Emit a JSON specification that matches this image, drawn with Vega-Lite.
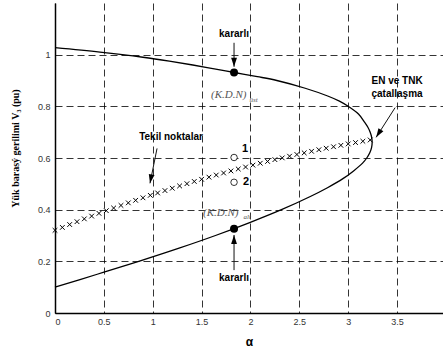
{
  "$schema": "https://vega.github.io/schema/vega-lite/v6.json",
  "width": 388,
  "height": 310,
  "autosize": {"type": "none"},
  "padding": {"left": 55, "top": 3, "right": 0, "bottom": 36},
  "background": "white",
  "config": {
    "view": {"stroke": null},
    "axis": {
      "domainColor": "black",
      "domainWidth": 1.5,
      "ticks": false,
      "labelFont": "Liberation Sans",
      "labelFontSize": 9,
      "labelColor": "#333333",
      "gridColor": "black",
      "gridDash": [7, 4],
      "gridWidth": 0.8,
      "gridOpacity": 1
    }
  },
  "datasets": {
    "curve": [
      {"i": 0, "x": 0, "y": 1.027}, {"i": 1, "x": 0.46, "y": 1.01}, {"i": 2, "x": 0.9, "y": 0.99},
      {"i": 3, "x": 1.17, "y": 0.975}, {"i": 4, "x": 1.41, "y": 0.96}, {"i": 5, "x": 1.63, "y": 0.945},
      {"i": 6, "x": 1.85, "y": 0.93}, {"i": 7, "x": 2.07, "y": 0.915}, {"i": 8, "x": 2.27, "y": 0.9},
      {"i": 9, "x": 2.56, "y": 0.87}, {"i": 10, "x": 2.79, "y": 0.84}, {"i": 11, "x": 2.91, "y": 0.82},
      {"i": 12, "x": 3.0, "y": 0.8}, {"i": 13, "x": 3.105, "y": 0.77}, {"i": 14, "x": 3.165, "y": 0.74},
      {"i": 15, "x": 3.2, "y": 0.72}, {"i": 16, "x": 3.225, "y": 0.7}, {"i": 17, "x": 3.24, "y": 0.68},
      {"i": 18, "x": 3.245, "y": 0.66}, {"i": 19, "x": 3.239, "y": 0.64}, {"i": 20, "x": 3.221, "y": 0.62},
      {"i": 21, "x": 3.19, "y": 0.6}, {"i": 22, "x": 3.147, "y": 0.58}, {"i": 23, "x": 3.055, "y": 0.55},
      {"i": 24, "x": 2.946, "y": 0.52}, {"i": 25, "x": 2.788, "y": 0.485}, {"i": 26, "x": 2.607, "y": 0.45},
      {"i": 27, "x": 2.317, "y": 0.4}, {"i": 28, "x": 1.992, "y": 0.35}, {"i": 29, "x": 1.642, "y": 0.3},
      {"i": 30, "x": 1.262, "y": 0.25}, {"i": 31, "x": 0.857, "y": 0.2}, {"i": 32, "x": 0.432, "y": 0.15},
      {"i": 33, "x": 0, "y": 0.1}
    ],
    "crosses": [
      {"x": 0, "y": 0.32}, {"x": 0.075, "y": 0.3313}, {"x": 0.15, "y": 0.3425}, {"x": 0.225, "y": 0.3535},
      {"x": 0.3, "y": 0.3644}, {"x": 0.375, "y": 0.3751}, {"x": 0.45, "y": 0.3857}, {"x": 0.525, "y": 0.3961},
      {"x": 0.6, "y": 0.4063}, {"x": 0.675, "y": 0.4164}, {"x": 0.75, "y": 0.4264}, {"x": 0.825, "y": 0.4362},
      {"x": 0.9, "y": 0.4459}, {"x": 0.975, "y": 0.4554}, {"x": 1.05, "y": 0.4647}, {"x": 1.125, "y": 0.4739},
      {"x": 1.2, "y": 0.483}, {"x": 1.275, "y": 0.4919}, {"x": 1.35, "y": 0.5006}, {"x": 1.425, "y": 0.5092},
      {"x": 1.5, "y": 0.5176}, {"x": 1.575, "y": 0.5259}, {"x": 1.65, "y": 0.534}, {"x": 1.725, "y": 0.542},
      {"x": 1.8, "y": 0.5499}, {"x": 1.875, "y": 0.5575}, {"x": 1.95, "y": 0.5651}, {"x": 2.025, "y": 0.5724},
      {"x": 2.1, "y": 0.5797}, {"x": 2.175, "y": 0.5867}, {"x": 2.25, "y": 0.5937}, {"x": 2.325, "y": 0.6004},
      {"x": 2.4, "y": 0.607}, {"x": 2.475, "y": 0.6135}, {"x": 2.55, "y": 0.6198}, {"x": 2.625, "y": 0.626},
      {"x": 2.7, "y": 0.632}, {"x": 2.775, "y": 0.6378}, {"x": 2.85, "y": 0.6435}, {"x": 2.925, "y": 0.6491},
      {"x": 3.0, "y": 0.6545}, {"x": 3.075, "y": 0.6597}, {"x": 3.15, "y": 0.6648}, {"x": 3.225, "y": 0.6698}
    ],
    "dots": [
      {"x": 1.832, "y": 0.931, "kind": "stable"},
      {"x": 1.832, "y": 0.326, "kind": "stable"},
      {"x": 1.832, "y": 0.602, "kind": "singular"},
      {"x": 1.832, "y": 0.506, "kind": "singular"}
    ],
    "arrows": [
      {"name": "top", "x": 1.832, "y": 1.046, "x2": 1.832, "y2": 0.953},
      {"name": "bottom", "x": 1.832, "y": 0.166, "x2": 1.832, "y2": 0.302},
      {"name": "tekil", "x": 1.044, "y": 0.637, "x2": 0.972, "y2": 0.502},
      {"name": "en", "x": 3.48, "y": 0.795, "x2": 3.286, "y2": 0.68}
    ],
    "boldLabels": [
      {"x": 1.832, "y": 1.08, "text": "kararlı"},
      {"x": 1.832, "y": 0.135, "text": "kararlı"},
      {"x": 1.187, "y": 0.68, "text": "Tekil noktalar"},
      {"x": 3.5, "y": 0.9, "text": "EN ve TNK"},
      {"x": 3.5, "y": 0.846, "text": "çatallaşma"}
    ],
    "numLabels": [
      {"x": 1.945, "y": 0.633, "text": "1"},
      {"x": 1.955, "y": 0.506, "text": "2"}
    ],
    "kdn": [
      {"x": 1.597, "y": 0.842, "text": "(K.D.N)"},
      {"x": 1.515, "y": 0.386, "text": "(K.D.N)"}
    ],
    "subs": [
      {"x": 1.99, "y": 0.826, "text": "üst"},
      {"x": 1.93, "y": 0.372, "text": "alt"}
    ]
  },
  "encoding": {
    "x": {
      "field": "x", "type": "quantitative",
      "scale": {"domain": [0, 3.97], "nice": false, "zero": false},
      "axis": {
        "values": [0, 0.5, 1, 1.5, 2, 2.5, 3, 3.5],
        "format": "~g",
        "labelPadding": 4,
        "title": "α",
        "titleFont": "Liberation Sans",
        "titleFontSize": 12,
        "titleFontWeight": "bold",
        "titleY": 28,
        "titleBaseline": "middle"
      }
    },
    "y": {
      "field": "y", "type": "quantitative",
      "scale": {"domain": [0, 1.2], "nice": false, "zero": false},
      "axis": {
        "values": [0, 0.2, 0.4, 0.6, 0.8, 1],
        "format": "~g",
        "labelPadding": 5,
        "title": "Yük barasý gerilimi V₃ (pu)",
        "titleFont": "Liberation Serif",
        "titleFontSize": 10,
        "titleFontWeight": "bold",
        "titleX": -40,
        "titleY": 145,
        "titleBaseline": "middle"
      }
    }
  },
  "layer": [
    {
      "data": {"values": [{"a": 1}]},
      "mark": {"type": "rule", "color": "black", "strokeWidth": 1.2},
      "encoding": {
        "x": {"datum": 0, "type": "quantitative"},
        "x2": {"datum": 3.97},
        "y": {"datum": 1.2, "type": "quantitative"}
      }
    },
    {
      "data": {"name": "curve"},
      "mark": {"type": "line", "color": "black", "strokeWidth": 1.3, "interpolate": "catmull-rom"},
      "encoding": {"order": {"field": "i", "type": "quantitative"}}
    },
    {
      "data": {"name": "crosses"},
      "mark": {"type": "point", "shape": "M-1,-1L1,1M-1,1L1,-1", "filled": false, "color": "black", "strokeWidth": 1, "size": 22, "opacity": 1}
    },
    {
      "data": {"name": "arrows"},
      "mark": {"type": "rule", "color": "#111111", "strokeWidth": 1},
      "encoding": {"x2": {"field": "x2"}, "y2": {"field": "y2"}}
    },
    {
      "data": {"name": "arrows"},
      "transform": [{"filter": "datum.name === 'top'"}],
      "mark": {"type": "point", "shape": "M0,0L0.65,2L-0.65,2Z", "filled": true, "color": "black", "size": 81, "angle": 180, "opacity": 1},
      "encoding": {"x": {"field": "x2", "type": "quantitative"}, "y": {"field": "y2", "type": "quantitative"}}
    },
    {
      "data": {"name": "arrows"},
      "transform": [{"filter": "datum.name === 'bottom'"}],
      "mark": {"type": "point", "shape": "M0,0L0.65,2L-0.65,2Z", "filled": true, "color": "black", "size": 81, "angle": 0, "opacity": 1},
      "encoding": {"x": {"field": "x2", "type": "quantitative"}, "y": {"field": "y2", "type": "quantitative"}}
    },
    {
      "data": {"name": "arrows"},
      "transform": [{"filter": "datum.name === 'tekil'"}],
      "mark": {"type": "point", "shape": "M0,0L0.65,2L-0.65,2Z", "filled": true, "color": "black", "size": 81, "angle": 191, "opacity": 1},
      "encoding": {"x": {"field": "x2", "type": "quantitative"}, "y": {"field": "y2", "type": "quantitative"}}
    },
    {
      "data": {"name": "arrows"},
      "transform": [{"filter": "datum.name === 'en'"}],
      "mark": {"type": "point", "shape": "M0,0L0.65,2L-0.65,2Z", "filled": true, "color": "black", "size": 81, "angle": 212, "opacity": 1},
      "encoding": {"x": {"field": "x2", "type": "quantitative"}, "y": {"field": "y2", "type": "quantitative"}}
    },
    {
      "data": {"name": "dots"},
      "transform": [{"filter": "datum.kind === 'stable'"}],
      "mark": {"type": "point", "shape": "circle", "filled": true, "color": "black", "size": 64, "opacity": 1}
    },
    {
      "data": {"name": "dots"},
      "transform": [{"filter": "datum.kind === 'singular'"}],
      "mark": {"type": "point", "shape": "circle", "filled": true, "fill": "white", "stroke": "black", "strokeWidth": 0.8, "size": 42, "opacity": 1}
    },
    {
      "data": {"name": "boldLabels"},
      "mark": {"type": "text", "font": "Liberation Sans", "fontSize": 10, "fontWeight": "bold", "color": "black"},
      "encoding": {"text": {"field": "text"}}
    },
    {
      "data": {"name": "numLabels"},
      "mark": {"type": "text", "font": "Liberation Sans", "fontSize": 11, "fontWeight": "bold", "color": "black"},
      "encoding": {"text": {"field": "text"}}
    },
    {
      "data": {"name": "kdn"},
      "mark": {"type": "text", "font": "Liberation Serif", "fontSize": 11, "fontStyle": "italic", "color": "#555555", "align": "left"},
      "encoding": {"text": {"field": "text"}}
    },
    {
      "data": {"name": "subs"},
      "mark": {"type": "text", "font": "Liberation Serif", "fontSize": 7, "fontStyle": "italic", "color": "#555555", "align": "left"},
      "encoding": {"text": {"field": "text"}}
    }
  ]
}
